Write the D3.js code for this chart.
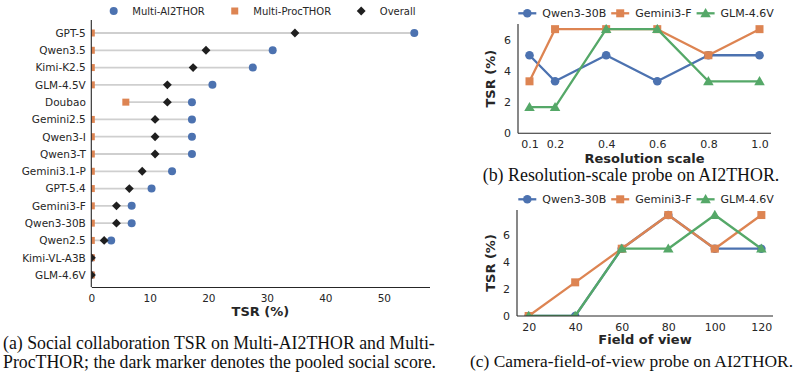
<!DOCTYPE html>
<html>
<head>
<meta charset="utf-8">
<script src="https://cdn.jsdelivr.net/npm/d3@7"></script>
<style>
  body { margin: 0; background: #fff; }
  svg { display: block; font-family: "DejaVu Sans", sans-serif; }
  .cap { font-family: "Liberation Serif", "Times New Roman", serif; font-size: 17.4px; fill: #111; }
</style>
</head>
<body>
<script>
// ---- data ----
const models = ["GPT-5", "Qwen3.5", "Kimi-K2.5", "GLM-4.5V", "Doubao", "Gemini2.5", "Qwen3-I",
  "Qwen3-T", "Gemini3.1-P", "GPT-5.4", "Gemini3-F", "Qwen3-30B", "Qwen2.5", "Kimi-VL-A3B", "GLM-4.6V"];
const ai2thor = [55.2, 31.0, 27.6, 20.7, 17.2, 17.2, 17.2, 17.2, 13.8, 10.3, 6.9, 6.9, 3.4, 0, 0];
const procthor = [0, 0, 0, 0, 5.9, 0, 0, 0, 0, 0, 0, 0, 0, 0, 0];
const overall = [34.8, 19.6, 17.4, 13.0, 13.0, 10.9, 10.9, 10.9, 8.7, 6.5, 4.3, 4.3, 2.2, 0, 0];
const tsrTicks = [0, 10, 20, 30, 40, 50];

const probeModels = ["Qwen3-30B", "Gemini3-F", "GLM-4.6V"];
const resScales = [0.1, 0.2, 0.4, 0.6, 0.8, 1.0];
const resQwen = [5.0, 3.33, 5.0, 3.33, 5.0, 5.0];
const resGemini = [3.33, 6.67, 6.67, 6.67, 5.0, 6.67];
const resGlm = [1.67, 1.67, 6.67, 6.67, 3.33, 3.33];

const fovs = [20, 40, 60, 80, 100, 120];
const fovQwen = [0, 0, 5.0, 7.5, 5.0, 5.0];
const fovGemini = [0, 2.5, 5.0, 7.5, 5.0, 7.5];
const fovGlm = [0, 0, 5.0, 5.0, 7.5, 5.0];
const probeTicks = [0, 2, 4, 6];

const blue = "#4C72B0", orange = "#DD8452", green = "#55A868", dark = "#1f1f1f", ink = "#262626";

const svg = d3.select("body").append("svg").attr("width", 799).attr("height", 380);
svg.append("rect").attr("width", 799).attr("height", 380).attr("fill", "#fff");
const defs = svg.append("defs");

// ---- panel (a): dumbbell chart ----
const xa = d3.scaleLinear().domain([0, 57.8]).range([91.3, 429.5]);
const ya = d3.scalePoint().domain(models).range([33, 275]);
const rowsA = models.map((m, i) => ({ m, a: ai2thor[i], p: procthor[i], o: overall[i] }));

defs.append("clipPath").attr("id", "clipA").append("rect")
  .attr("x", 91.3).attr("y", 20).attr("width", 340).attr("height", 267);

const gA = svg.append("g");
const plotA = gA.append("g").attr("clip-path", "url(#clipA)");
plotA.selectAll("line.rng").data(rowsA).join("line")
  .attr("x1", d => xa(Math.min(d.a, d.p, d.o)))
  .attr("x2", d => xa(Math.max(d.a, d.p, d.o)))
  .attr("y1", d => ya(d.m)).attr("y2", d => ya(d.m))
  .attr("stroke", "#cfcfcf").attr("stroke-width", 1.8);
plotA.selectAll("circle").data(rowsA).join("circle")
  .attr("cx", d => xa(d.a)).attr("cy", d => ya(d.m)).attr("r", 4).attr("fill", blue);
plotA.selectAll("rect.sq").data(rowsA).join("rect").attr("class", "sq")
  .attr("x", d => xa(d.p) - 3.5).attr("y", d => ya(d.m) - 3.5)
  .attr("width", 7).attr("height", 7).attr("fill", orange);
const diamond = d3.symbol().type(d3.symbolDiamond2).size(50);
plotA.selectAll("path.dm").data(rowsA).join("path").attr("class", "dm")
  .attr("d", diamond)
  .attr("transform", d => `translate(${xa(d.o)},${ya(d.m)})`)
  .attr("fill", dark);

gA.append("g").attr("transform", "translate(0,287)")
  .call(d3.axisBottom(xa).tickValues(tsrTicks).tickSize(0).tickPadding(0))
  .call(g => g.select(".domain").attr("stroke", ink).attr("stroke-width", 1.1))
  .call(g => g.selectAll(".tick text").attr("y", 0).attr("dy", 15)
    .attr("font-size", 10.5).attr("fill", ink).attr("font-family", "DejaVu Sans"));
gA.append("g").attr("transform", "translate(91.3,0)")
  .call(d3.axisLeft(ya).tickSize(0).tickPadding(5.5))
  .call(g => g.select(".domain").attr("d", "M0,20V287").attr("stroke", ink).attr("stroke-width", 1.1))
  .call(g => g.selectAll(".tick text").attr("font-size", 10.5).attr("fill", ink).attr("font-family", "DejaVu Sans"));
gA.append("text").attr("x", 260.4).attr("y", 316).attr("text-anchor", "middle")
  .attr("font-size", 13).attr("font-weight", "bold").attr("fill", ink).text("TSR (%)");

// legend (a)
const legA = [{ k: "Multi-AI2THOR", s: "c" }, { k: "Multi-ProcTHOR", s: "s" }, { k: "Overall", s: "d" }];
let lx = 113.7;
legA.forEach(e => {
  if (e.s === "c") gA.append("circle").attr("cx", lx).attr("cy", 11).attr("r", 4).attr("fill", blue);
  if (e.s === "s") gA.append("rect").attr("x", lx - 3.5).attr("y", 7.5).attr("width", 7).attr("height", 7).attr("fill", orange);
  if (e.s === "d") gA.append("path").attr("d", diamond).attr("transform", `translate(${lx},11)`).attr("fill", dark);
  const t = gA.append("text").attr("x", lx + 18.6).attr("y", 14.6).attr("font-size", 10).attr("fill", ink).text(e.k);
  lx = lx + 18.6 + t.node().getComputedTextLength() + 30;
});

// ---- line probe panels (b) and (c) ----
function probePanel(opt) {
  const g = svg.append("g");
  const x = d3.scaleLinear().domain(opt.xDomain).range([opt.left, opt.right]);
  const y = d3.scaleLinear().domain(opt.yDomain).range([opt.bottom, opt.top]);
  const id = "clip" + opt.key;
  defs.append("clipPath").attr("id", id).append("rect")
    .attr("x", opt.left).attr("y", opt.top).attr("width", opt.right - opt.left).attr("height", opt.bottom - opt.top);

  const series = [
    { name: probeModels[0], vals: opt.series[0], color: blue, shape: "c" },
    { name: probeModels[1], vals: opt.series[1], color: orange, shape: "s" },
    { name: probeModels[2], vals: opt.series[2], color: green, shape: "t" },
  ];
  const line = d3.line().x((d, i) => x(opt.xs[i])).y(d => y(d));
  const tri = d3.symbol().type(d3.symbolTriangle).size(48);
  const drawMarker = (sel, s, cx, cy) => {
    if (s.shape === "c") sel.append("circle").attr("cx", cx).attr("cy", cy).attr("r", 4.3).attr("fill", s.color);
    if (s.shape === "s") sel.append("rect").attr("x", cx - 4).attr("y", cy - 4).attr("width", 8).attr("height", 8).attr("fill", s.color);
    if (s.shape === "t") sel.append("path").attr("d", tri).attr("transform", `translate(${cx},${cy + 0.8})`).attr("fill", s.color);
  };

  const plot = g.append("g").attr("clip-path", `url(#${id})`);
  series.forEach(s => {
    const sg = plot.append("g");
    sg.append("path").datum(s.vals).attr("d", line).attr("fill", "none")
      .attr("stroke", s.color).attr("stroke-width", 2.3).attr("stroke-linejoin", "round");
    s.vals.forEach((v, i) => drawMarker(sg, s, x(opt.xs[i]), y(v)));
  });

  g.append("g").attr("transform", `translate(0,${opt.bottom})`)
    .call(d3.axisBottom(x).tickValues(opt.xs).tickFormat(opt.fmt).tickSize(0))
    .call(a => a.select(".domain").attr("d", `M${opt.left},0H${opt.right}`).attr("stroke", ink).attr("stroke-width", 1.1))
    .call(a => a.selectAll(".tick text").attr("y", 0).attr("dy", opt.xTickDy)
      .attr("font-size", 11).attr("fill", ink).attr("font-family", "DejaVu Sans"));
  g.append("g").attr("transform", `translate(${opt.left},0)`)
    .call(d3.axisLeft(y).tickValues(probeTicks).tickFormat(d3.format("d")).tickSize(0).tickPadding(7))
    .call(a => a.select(".domain").attr("d", `M0,${opt.top}V${opt.bottom}`).attr("stroke", ink).attr("stroke-width", 1.1))
    .call(a => a.selectAll(".tick text").attr("font-size", 11).attr("fill", ink).attr("font-family", "DejaVu Sans"));

  g.append("text").attr("transform", `translate(495,${(opt.top + opt.bottom) / 2}) rotate(-90)`)
    .attr("text-anchor", "middle").attr("font-size", 13).attr("font-weight", "bold").attr("fill", ink).text("TSR (%)");
  g.append("text").attr("x", (opt.left + opt.right) / 2).attr("y", opt.xLabelY).attr("text-anchor", "middle")
    .attr("font-size", 13).attr("font-weight", "bold").attr("fill", ink).text(opt.xLabel);

  // legend
  let cx = 527.3;
  series.forEach(s => {
    g.append("line").attr("x1", cx - 9).attr("x2", cx + 9).attr("y1", opt.legY).attr("y2", opt.legY)
      .attr("stroke", s.color).attr("stroke-width", 2.3);
    drawMarker(g, s, cx, opt.legY);
    const t = g.append("text").attr("x", cx + 15).attr("y", opt.legY + 4).attr("font-size", 11).attr("fill", ink).text(s.name);
    cx = cx + 15 + t.node().getComputedTextLength() + 14;
  });

  svg.append("text").attr("class", "cap").attr("x", opt.capX).attr("y", opt.capY)
    .attr("font-size", opt.capSize).style("font-size", opt.capSize + "px").text(opt.caption);
}

probePanel({
  key: "B", xs: resScales, series: [resQwen, resGemini, resGlm],
  xDomain: [0.055, 1.045], yDomain: [0, 7.0],
  left: 518, right: 771, top: 24, bottom: 133.3,
  fmt: d3.format(".1f"), xTickDy: 15, xLabel: "Resolution scale", xLabelY: 162.5,
  legY: 13.3, caption: "(b) Resolution-scale probe on AI2THOR.", capX: 482.7, capY: 180.5, capSize: 17.9
});
probePanel({
  key: "C", xs: fovs, series: [fovQwen, fovGemini, fovGlm],
  xDomain: [15, 125], yDomain: [0, 7.875],
  left: 517, right: 773, top: 210, bottom: 316,
  fmt: d3.format("d"), xTickDy: 14.5, xLabel: "Field of view", xLabelY: 344,
  legY: 199.3, caption: "(c) Camera-field-of-view probe on AI2THOR.", capX: 470, capY: 366.5, capSize: 17.4
});

// caption (a)
svg.append("text").attr("class", "cap").attr("x", 3).attr("y", 349).style("font-size", "17.8px")
  .text("(a) Social collaboration TSR on Multi-AI2THOR and Multi-");
svg.append("text").attr("class", "cap").attr("x", 3).attr("y", 368).style("font-size", "17.8px")
  .text("ProcTHOR; the dark marker denotes the pooled social score.");
</script>
</body>
</html>
